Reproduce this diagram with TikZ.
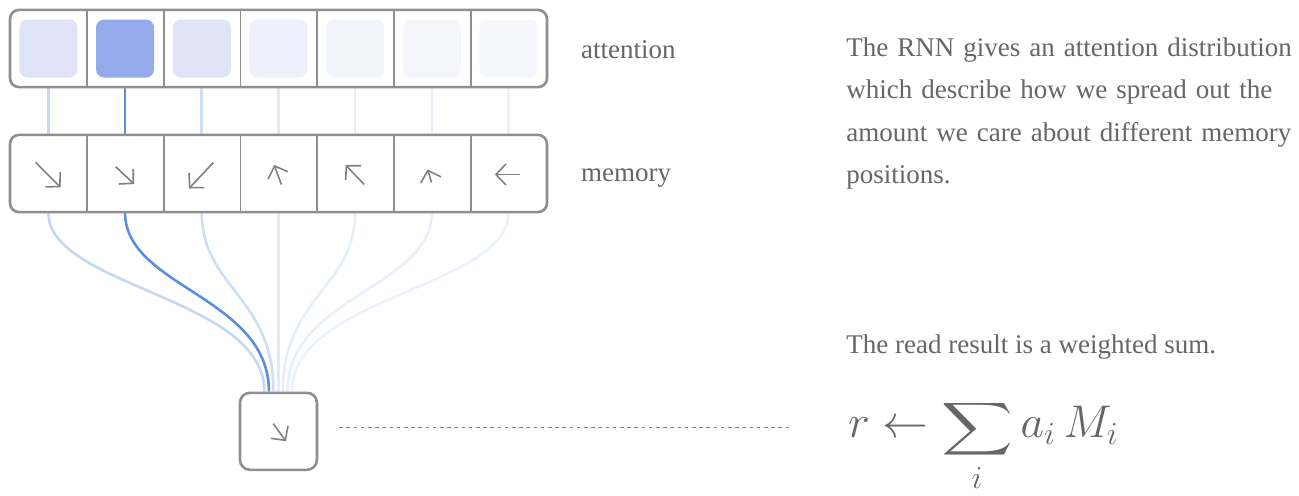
\RequirePackage{fix-cm}
\documentclass[tikz,border=0pt]{standalone}
\usepackage{fontspec}
\setmainfont{Liberation Serif}
\usepackage{amsmath}
\usepackage{graphicx}
\usetikzlibrary{arrows.meta,positioning,backgrounds}

\definecolor{frame}{RGB}{143,143,143}
\definecolor{glyphgray}{RGB}{128,128,128}
\definecolor{txt}{RGB}{102,102,102}
\definecolor{att1}{RGB}{222,227,247}
\definecolor{att2}{RGB}{148,170,235}
\definecolor{att3}{RGB}{223,228,247}
\definecolor{att4}{RGB}{238,241,251}
\definecolor{att5}{RGB}{243,245,252}
\definecolor{att6}{RGB}{244,246,252}
\definecolor{att7}{RGB}{246,247,253}
\definecolor{lnk1}{RGB}{197,216,243}
\definecolor{lnk2}{RGB}{91,143,221}
\definecolor{lnk3}{RGB}{206,222,245}
\definecolor{lnk4}{RGB}{224,234,249}
\definecolor{lnk5}{RGB}{230,238,250}
\definecolor{lnk6}{RGB}{232,239,250}
\definecolor{lnk7}{RGB}{236,242,251}

\newcommand{\flatsum}{\mathop{\scalebox{1}[0.74]{$\displaystyle\sum$}}\limits}

\begin{document}
\begin{tikzpicture}[x=0.5pt, y=-0.5pt,
  rowbox/.style={draw=frame, line width=1.3pt, rounded corners=4.5pt, minimum width=268.5pt, minimum height=38.6pt, inner sep=0pt},
  cell/.style={minimum width=38.35pt, minimum height=38.6pt, inner sep=0pt},
  divider/.style={draw=frame, line width=0.9pt},
  weight/.style={rounded corners=4pt, minimum size=29pt, inner sep=0pt},
  glyph/.style={draw=glyphgray, line width=0.8pt, -{Straight Barb[length=5pt,width=10.5pt]}},
  link/.style={line width=1.3pt},
  lbl/.style={text=txt, inner sep=0pt, anchor=base west, align=left, font=\fontsize{13.5}{21.1}\selectfont},
]
\useasboundingbox (0,0) rectangle (1299,495);

% the two rows
\node[rowbox] (attn) at (278.5,48.5) {};
\node[rowbox] (mem) at (278.5,173.5) {};
\foreach \i in {1,...,7} {
  \node[cell] (a\i) at (10+76.7*\i-38.35,48.5) {};
  \node[cell] (m\i) at (10+76.7*\i-38.35,173.5) {};
}
\foreach \i in {1,...,6} {
  \draw[divider] (a\i.north east) -- (a\i.south east);
  \draw[divider] (m\i.north east) -- (m\i.south east);
}

% attention weights
\foreach \i/\c in {1/att1,2/att2,3/att3,4/att4,5/att5,6/att6,7/att7}
  \node[weight, fill=\c] (w\i) at (a\i) {};

% memory contents
\foreach \i/\tx/\ty/\hx/\hy in {1/-12.7/-11.2/12.3/13.8, 2/-9.3/-6.8/9/10.5, 3/11.6/-11/-12.7/15,
    4/2.9/11/-4.3/-8.6, 5/9/11/-9.5/-8.6, 6/-0.3/9/-4.3/-4.2, 7/11.3/1/-13.7/1}
  \draw[glyph] ([shift={(\tx,\ty)}]m\i.center) -- ([shift={(\hx,\hy)}]m\i.center);

% read result
\node[draw=frame, line width=1.3pt, rounded corners=5pt, minimum size=38.5pt, inner sep=0pt,
  below=89.5pt of m4] (res) {};
\draw[glyph] ([shift={(-5.2,-7.7)}]res.center) -- ([shift={(7.5,9.9)}]res.center);

\begin{scope}[on background layer]
\foreach \i in {1,...,7}
  \draw[link, lnk\i] (a\i.south) -- (m\i.north);
\foreach \i/\dx in {1/-14,3/-5,4/0,5/4.5,6/9,7/13.5,2/-9.5}
  \draw[link, lnk\i] (m\i.south) .. controls +(0,75) and +(0,-95) .. ([shift={(\dx,0)}]res.north);
\end{scope}

% labels and text
\node[lbl] (lblatt) at (580.7,58) {attention};
\node[lbl] (lblmem) at (580.7,181) {memory};
\node[lbl, text width=235pt] (desc) at (846,56.7) {The RNN gives an attention distribution\\
  which describe how we spread out the\\ amount we care about different memory\\ positions.};
\node[lbl] (readtxt) at (846,353) {The read result is a weighted sum.};
\node[lbl, font=\fontsize{22.9}{27}\selectfont] (formula) at (848,437.5) {$\displaystyle r \leftarrow \flatsum_i a_i \, M_i$};

\draw[glyphgray, line width=0.5pt, dash pattern=on 1.8pt off 1.8pt, shorten <=10.5pt, shorten >=29pt]
  ([yshift=1.75pt]res.east) -- ([yshift=1.75pt]res.east -| formula.west);
\end{tikzpicture}
\end{document}
